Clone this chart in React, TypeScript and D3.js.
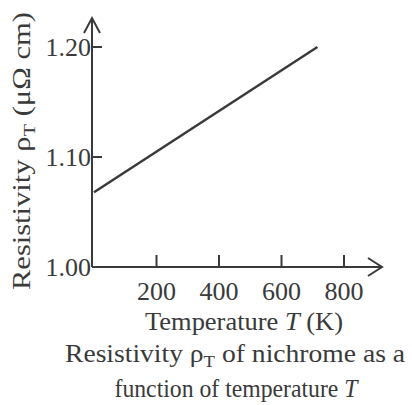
import React from 'react'
import * as d3 from 'd3'

// resistivity of nichrome vs temperature
const tempK = [0, 715]
const rho = [1.068, 1.2]
const xTicks = [200, 400, 600, 800]
const yTicks = [1.0, 1.1, 1.2]

const W = 412
const H = 405
const ink = '#3a3a3a'
const font = '"Liberation Serif", "DejaVu Serif", serif'

export default function App() {
    const x = d3.scaleLinear().domain([0, 800]).range([94, 344])
    const y = d3.scaleLinear().domain([1.0, 1.2]).range([267, 47])

    const axisX = 92
    const axisY = y(1.0)

    const pts: [number, number][] = tempK.map((t, i) => [t, rho[i]])
    const line = d3.line<[number, number]>()
        .x(d => x(d[0]))
        .y(d => y(d[1]))

    return (
        <svg width={W} height={H} style={{ position: 'absolute', left: 0, top: 0, background: '#fff' }}
            fontFamily={font} fill={ink}>
            {/* y axis with arrow */}
            <line x1={axisX} y1={axisY} x2={axisX} y2={18} stroke={ink} strokeWidth={2} />
            <path d={`M${axisX - 8},33 L${axisX},18 L${axisX + 8},33`} fill="none" stroke={ink} strokeWidth={2} />
            {/* x axis with arrow */}
            <line x1={axisX} y1={axisY} x2={382} y2={axisY} stroke={ink} strokeWidth={2} />
            <path d={`M368,${axisY - 9} L382,${axisY} L368,${axisY + 9}`} fill="none" stroke={ink} strokeWidth={2} />

            {yTicks.map(v => (
                <g key={v}>
                    {v > 1.0 && <line x1={axisX} x2={axisX + 10} y1={y(v)} y2={y(v)} stroke={ink} strokeWidth={2} />}
                    <text x={axisX - 1} y={y(v) + 9} textAnchor="end" fontSize={26}>{d3.format('.2f')(v)}</text>
                </g>
            ))}
            {xTicks.map(v => (
                <g key={v}>
                    <line x1={x(v)} x2={x(v)} y1={axisY} y2={axisY - 12} stroke={ink} strokeWidth={2} />
                    <text x={x(v)} y={300} textAnchor="middle" fontSize={26}>{v}</text>
                </g>
            ))}

            <path d={line(pts) ?? ''} fill="none" stroke={ink} strokeWidth={2.5} />

            {/* axis titles */}
            <text transform="translate(30,151) rotate(-90)" textAnchor="middle" fontSize={25}
                textLength={278} lengthAdjust="spacingAndGlyphs">
                Resistivity ρ<tspan fontSize={17} dy={5}>T</tspan><tspan dy={-5}> (μΩ cm)</tspan>
            </text>
            <text x={244} y={330} textAnchor="middle" fontSize={25} textLength={198} lengthAdjust="spacingAndGlyphs">
                Temperature <tspan fontStyle="italic">T</tspan> (K)
            </text>

            {/* caption */}
            <text x={235} y={362} textAnchor="middle" fontSize={25} textLength={340} lengthAdjust="spacingAndGlyphs">
                Resistivity ρ<tspan fontSize={17} dy={5}>T</tspan><tspan dy={-5}> of nichrome as a</tspan>
            </text>
            <text x={236} y={397} textAnchor="middle" fontSize={25} textLength={243} lengthAdjust="spacingAndGlyphs">
                function of temperature <tspan fontStyle="italic">T</tspan>
            </text>
        </svg>
    )
}
